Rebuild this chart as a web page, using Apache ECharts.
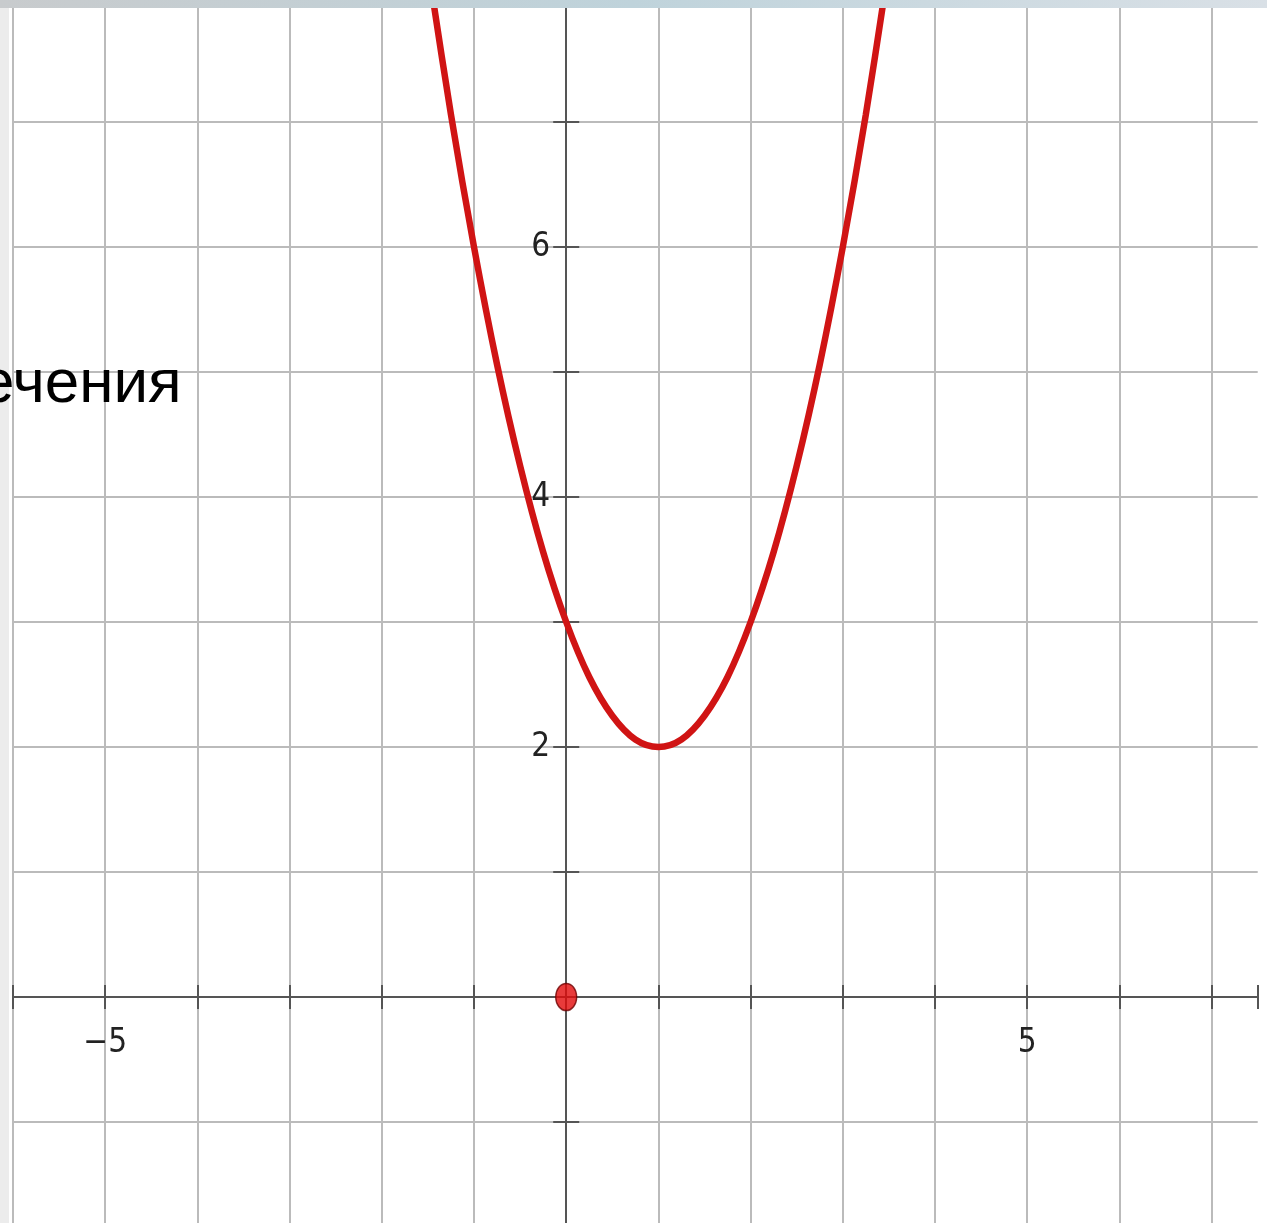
<!DOCTYPE html>
<html>
<head>
<meta charset="utf-8">
<script src="https://cdn.jsdelivr.net/npm/echarts@6/dist/echarts.min.js"></script>
<style>
  html, body { margin: 0; padding: 0; background: #ffffff; }
  #chart { width: 1267px; height: 1223px; }
</style>
</head>
<body>
<div id="chart"></div>
<script>
// Parabola points (x, y) and the marked point at the origin
const curveX = [-1.5, -1.25, -1, -0.75, -0.5, -0.25, 0, 0.25, 0.5, 0.75, 1, 1.25, 1.5, 1.75, 2, 2.25, 2.5, 2.75, 3, 3.25, 3.5];
const curveY = [8.25, 7.06, 6, 5.06, 4.25, 3.56, 3, 2.56, 2.25, 2.06, 2, 2.06, 2.25, 2.56, 3, 3.56, 4.25, 5.06, 6, 7.06, 8.25];
const pointX = [0];
const pointY = [0];

// Axis ranges and the labelled ticks
const xRange = [-6, 7.5];
const yRange = [-2, 8];
const xLabelValues = [-5, 5];
const xLabelTexts = ['\u22125', '5'];
const yLabelValues = [2, 4, 6, 8];
const yLabelTexts = ['2', '4', '6', '8'];

const caption = 'ечения';

const curveData = curveX.map((x, i) => [x, curveY[i]]);
const pointData = pointX.map((x, i) => [x, pointY[i]]);

const axisColor = '#555555';
const gridColor = '#bbbbbb';
const labelFont = '"Liberation Sans Narrow", "DejaVu Sans Condensed", "Arial Narrow", "Liberation Sans", sans-serif';

function pick(values, texts) {
  return function (v) {
    const i = values.findIndex(t => Math.abs(t - v) < 1e-9);
    return i >= 0 ? texts[i] : '';
  };
}

// Pixel size of one unit on each axis
const unitX = 92.2;
const unitY = 125;
const gridLeft = 13;
const gridTop = -3;
const gridWidth = (xRange[1] - xRange[0]) * unitX;
const gridHeight = (yRange[1] - yRange[0]) * unitY;
// Distance from the grid edges to the zero lines, so the axes cross at the origin
const xAxisShift = -(0 - yRange[0]) * unitY;
const yAxisShift = -(0 - xRange[0]) * unitX;

const chart = echarts.init(document.getElementById('chart'), null, { renderer: 'canvas' });

const tickStyle = { color: axisColor, width: 2 };

chart.setOption({
  animation: false,
  backgroundColor: '#ffffff',
  grid: {
    left: gridLeft,
    top: gridTop,
    width: gridWidth,
    height: gridHeight,
    containLabel: false,
    outerBoundsMode: 'none'
  },
  xAxis: [
    {
      type: 'value',
      position: 'bottom',
      offset: xAxisShift,
      min: xRange[0],
      max: xRange[1],
      interval: 1,
      axisLine: { show: true, onZero: false, lineStyle: { color: axisColor, width: 2 } },
      axisTick: { show: true, inside: false, length: 12, lineStyle: tickStyle },
      axisLabel: {
        show: true,
        margin: 30,
        formatter: pick(xLabelValues, xLabelTexts),
        color: '#222222',
        fontSize: 33,
        fontFamily: labelFont,
        hideOverlap: false
      },
      splitLine: { show: true, showMinLine: true, showMaxLine: false, lineStyle: { color: gridColor, width: 2 } }
    },
    {
      type: 'value',
      position: 'bottom',
      offset: xAxisShift,
      min: xRange[0],
      max: xRange[1],
      interval: 1,
      axisLine: { show: false, onZero: false },
      axisTick: { show: true, inside: true, length: 12, lineStyle: tickStyle },
      axisLabel: { show: false },
      splitLine: { show: false }
    }
  ],
  yAxis: [
    {
      type: 'value',
      position: 'left',
      offset: yAxisShift,
      min: yRange[0],
      max: yRange[1],
      interval: 1,
      axisLine: { show: true, onZero: false, lineStyle: { color: axisColor, width: 2 } },
      axisTick: { show: true, inside: false, length: 13, lineStyle: tickStyle },
      axisLabel: {
        show: true,
        margin: 16,
        formatter: pick(yLabelValues, yLabelTexts),
        color: '#222222',
        fontSize: 33,
        fontFamily: labelFont,
        hideOverlap: false
      },
      splitLine: { show: true, showMinLine: false, showMaxLine: true, lineStyle: { color: gridColor, width: 2 } }
    },
    {
      type: 'value',
      position: 'left',
      offset: yAxisShift,
      min: yRange[0],
      max: yRange[1],
      interval: 1,
      axisLine: { show: false, onZero: false },
      axisTick: { show: true, inside: true, length: 13, lineStyle: tickStyle },
      axisLabel: { show: false },
      splitLine: { show: false }
    }
  ],
  series: [
    {
      type: 'line',
      xAxisIndex: 0,
      yAxisIndex: 0,
      data: curveData,
      smooth: 0.35,
      showSymbol: false,
      clip: true,
      lineStyle: { color: '#d01414', width: 6.5 },
      z: 5
    },
    {
      type: 'scatter',
      xAxisIndex: 0,
      yAxisIndex: 0,
      data: pointData,
      symbol: 'circle',
      symbolSize: [21, 27],
      itemStyle: { color: '#e20a0a', borderColor: '#6e0000', borderWidth: 1.5 },
      z: 6
    }
  ],
  graphic: [
    {
      type: 'rect',
      left: 0,
      top: 8,
      z: 40,
      shape: { width: 9, height: 1215 },
      style: { fill: '#ececec' }
    },
    {
      type: 'text',
      left: -20,
      top: 354,
      z: 50,
      style: {
        text: caption,
        fill: '#000000',
        font: '62px "Liberation Sans", Arial, sans-serif'
      }
    },
    {
      type: 'rect',
      left: 0,
      top: 0,
      z: 100,
      shape: { width: 1267, height: 8 },
      style: {
        fill: new echarts.graphic.LinearGradient(0, 0, 1, 0, [
          { offset: 0, color: '#c8cbcd' },
          { offset: 0.5, color: '#bfd3db' },
          { offset: 1, color: '#d9e0e6' }
        ])
      }
    }
  ]
});
</script>
</body>
</html>
